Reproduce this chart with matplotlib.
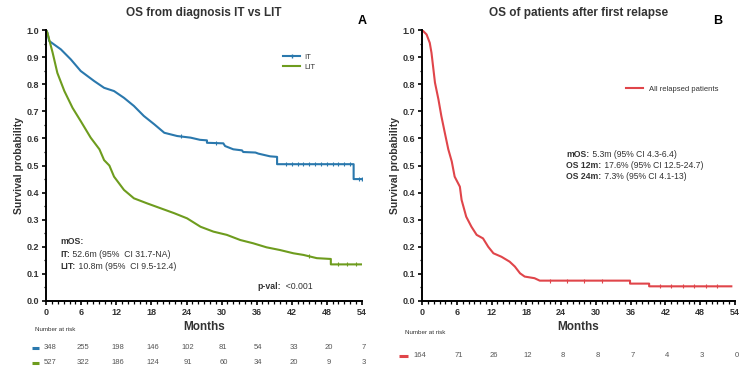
import numpy as np
import matplotlib.pyplot as plt
from matplotlib.ticker import MultipleLocator
from matplotlib.transforms import blended_transform_factory

plt.rcParams['font.family'] = ['Liberation Sans', 'DejaVu Sans']

# Kaplan-Meier curves as (months, survival) vertices
it_t = [0, 0.2, 0.5, 2.5, 4.2, 5.9, 8.2, 9.9, 11.6, 13.3, 15.0, 16.7, 18.5, 20.2,
        22.4, 24.7, 26.3, 27.5, 27.5, 30.3, 30.6, 32.0, 33.5, 33.7, 35.8, 36.3, 38.3,
        39.5, 39.5, 52.6, 52.6, 54.0]
it_s = [1.0, 0.99, 0.96, 0.929, 0.892, 0.849, 0.812, 0.787, 0.775, 0.75, 0.72, 0.683,
        0.652, 0.621, 0.609, 0.603, 0.595, 0.593, 0.584, 0.582, 0.572, 0.56, 0.556,
        0.55, 0.548, 0.544, 0.534, 0.532, 0.505, 0.505, 0.45, 0.45]
lit_t = [0, 0.2, 1.1, 1.9, 3.1, 4.5, 5.9, 7.6, 9.1, 9.9, 10.8, 11.6, 13.3, 15.0, 17.3,
         19.6, 21.9, 24.1, 26.4, 28.6, 30.9, 33.2, 35.4, 37.7, 40.0, 42.3, 44.0, 46.3,
         48.7, 48.7, 54.0]
lit_s = [1.0, 0.99, 0.916, 0.842, 0.775, 0.713, 0.664, 0.603, 0.56, 0.52, 0.5, 0.459,
         0.41, 0.379, 0.36, 0.342, 0.324, 0.305, 0.274, 0.256, 0.244, 0.225, 0.213,
         0.198, 0.188, 0.176, 0.17, 0.158, 0.155, 0.135, 0.135]
rel_t = [0, 0.75, 1.3, 1.6, 2.2, 2.8, 3.3, 3.9, 4.5, 5.1, 5.6, 6.5, 6.8, 7.6, 8.5, 9.4,
         10.5, 11.4, 12.3, 13.7, 15.1, 16.0, 16.9, 17.7, 19.4, 20.3, 35.9, 35.9, 39.2,
         39.2, 53.4]
rel_s = [1.0, 0.984, 0.953, 0.916, 0.806, 0.744, 0.683, 0.621, 0.56, 0.515, 0.459,
         0.422, 0.373, 0.311, 0.274, 0.244, 0.231, 0.2, 0.176, 0.163, 0.145, 0.127,
         0.102, 0.09, 0.084, 0.075, 0.075, 0.064, 0.064, 0.054, 0.054]

# censoring ticks (months)
it_cens = [23, 29, 41, 42, 43, 44, 45, 46, 47, 48, 49, 50, 51, 52, 53.5]
lit_cens = [45, 50, 51.5, 53]
rel_cens = [22, 25, 28, 31, 41, 43, 45, 47, 49, 51]

risk_times = [0, 6, 12, 18, 24, 30, 36, 42, 48, 54]
it_risk = [348, 255, 198, 146, 102, 81, 54, 33, 20, 7]
lit_risk = [527, 322, 186, 124, 91, 60, 34, 20, 9, 3]
rel_risk = [164, 71, 26, 12, 8, 8, 7, 4, 3, 0]

blue = '#2a78ad'
green = '#6e9c1e'
red = '#e0454a'
txt = '#333333'
num = '#555555'


def style_axis(ax):
    ax.set_xlim(0, 54)
    ax.set_ylim(0, 1.0)
    ax.spines['top'].set_visible(False)
    ax.spines['right'].set_visible(False)
    ax.spines['left'].set_linewidth(1.4)
    ax.spines['bottom'].set_linewidth(1.4)
    ax.xaxis.set_minor_locator(MultipleLocator(1))
    ax.yaxis.set_minor_locator(MultipleLocator(0.05))
    ax.tick_params(which='major', length=3, width=1.2, labelsize=6.5, pad=2)
    ax.tick_params(which='minor', length=1.8, width=0.9)
    yt = np.round(np.arange(0, 1.01, 0.1), 1)
    ax.set_yticks(yt)
    ax.set_yticklabels(['%.1f' % v for v in yt], fontweight='bold', color=txt)
    ax.set_xticks(risk_times)
    ax.set_xticklabels([str(v) for v in risk_times], fontweight='bold', color=txt)
    ax.set_xlabel('Months', fontsize=8.5, fontweight='bold', color=txt, labelpad=3)
    ax.set_ylabel('Survival probability', fontsize=7.5, fontweight='bold', color=txt,
                  labelpad=2)


def bold_lead(ax, x, y, bold, rest, fs=6.2):
    # bold label followed by normal text on the same baseline
    t = ax.text(x, y, bold, fontsize=fs, fontweight='bold', color=txt, va='center')
    ax.annotate(rest, xy=(1, 0), xycoords=t, fontsize=fs, color=txt,
                ha='left', va='bottom')


def risk_row(ax, ypos, vals, color, x0, x1, first_shift=0.3):
    tr = blended_transform_factory(ax.transData, ax.transAxes)
    ax.plot([x0, x1], [ypos, ypos], transform=tr, color=color, lw=2.2,
            solid_capstyle='butt', clip_on=False)
    for i, (x, v) in enumerate(zip(risk_times, vals)):
        dx = first_shift if i == 0 else 0.3
        ax.text(x + dx, ypos, str(v), transform=tr, fontsize=5.5, color=num,
                ha='center', va='center')


fig = plt.figure(figsize=(7.46, 3.72), dpi=100)
axA = fig.add_axes([0.062, 0.191, 0.423, 0.728])
axB = fig.add_axes([0.566, 0.191, 0.419, 0.728])

# Panel A
axA.plot(it_t, it_s, color=blue, lw=1.5, label='IT', marker='|', ms=2.5,
         markevery=[len(it_t) - 1])
axA.plot(lit_t, lit_s, color=green, lw=1.5, label='LIT')
axA.plot(it_cens, np.interp(it_cens, it_t, it_s), ls='none', marker='|', ms=3,
         mew=0.8, color=blue)
axA.plot(lit_cens, np.interp(lit_cens, lit_t, lit_s), ls='none', marker='|', ms=3,
         mew=0.8, color=green)
style_axis(axA)
axA.set_title('OS from diagnosis IT vs LIT', fontsize=8.5, fontweight='bold',
              color=txt, pad=10)
axA.text(1.0, 1.01, 'A', transform=axA.transAxes, fontsize=9, fontweight='bold',
         ha='center', va='bottom')
axA.legend(loc='upper right', bbox_to_anchor=(0.875, 0.94), frameon=False,
           fontsize=5.5, handlelength=2.2, labelspacing=0.4, handletextpad=0.6,
           labelcolor=txt)

axA.text(2.4, 0.219, 'mOS:', fontsize=6.3, fontweight='bold', color=txt, va='center')
bold_lead(axA, 2.4, 0.172, 'IT:', ' 52.6m (95%  CI 31.7-NA)', fs=6.3)
bold_lead(axA, 2.4, 0.129, 'LIT:', ' 10.8m (95%  CI 9.5-12.4)', fs=6.3)
bold_lead(axA, 36.2, 0.053, 'p-val:', '  <0.001', fs=6.3)

trA = blended_transform_factory(axA.transData, axA.transAxes)
axA.text(-1.9, -0.104, 'Number at risk', transform=trA, fontsize=4.5, color=txt,
         va='center')
risk_row(axA, -0.172, it_risk, blue, -2.5, -1.3, first_shift=0.6)
risk_row(axA, -0.228, lit_risk, green, -2.5, -1.3, first_shift=0.6)

# Panel B
axB.plot(rel_t, rel_s, color=red, lw=1.5, label='All relapsed patients')
axB.plot(rel_cens, np.interp(rel_cens, rel_t, rel_s), ls='none', marker='|', ms=3,
         mew=0.8, color=red)
style_axis(axB)
axB.set_title('OS of patients after first relapse', fontsize=8.5, fontweight='bold',
              color=txt, pad=10)
axB.text(0.946, 1.01, 'B', transform=axB.transAxes, fontsize=9, fontweight='bold',
         ha='center', va='bottom')
axB.legend(loc='upper right', bbox_to_anchor=(0.97, 0.82), frameon=False, fontsize=5.5,
           handlelength=2.2, labelcolor=txt)

bold_lead(axB, 24.9, 0.541, 'mOS:', ' 5.3m (95% CI 4.3-6.4)')
bold_lead(axB, 24.9, 0.5, 'OS 12m:', ' 17.6% (95% CI 12.5-24.7)')
bold_lead(axB, 24.9, 0.459, 'OS 24m:', ' 7.3% (95% CI 4.1-13)')

trB = blended_transform_factory(axB.transData, axB.transAxes)
axB.text(-3.0, -0.118, 'Number at risk', transform=trB, fontsize=4.5, color=txt,
         va='center')
risk_row(axB, -0.203, rel_risk, red, -4.0, -2.5, first_shift=-0.4)

fig.savefig('out.png', dpi=100)
